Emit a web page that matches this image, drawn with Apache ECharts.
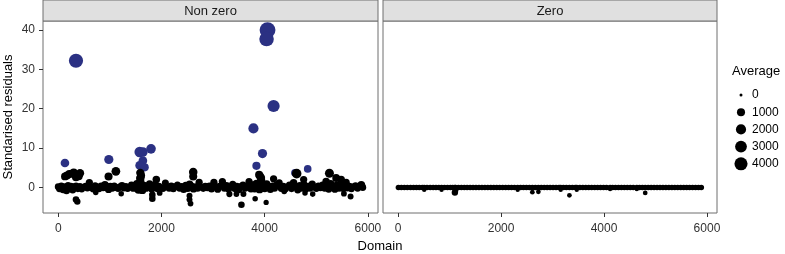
<!DOCTYPE html>
<html>
<head>
<meta charset="utf-8">
<script src="https://cdn.jsdelivr.net/npm/echarts@6/dist/echarts.min.js"></script>
<style>
  html, body { margin: 0; padding: 0; background: #fff; }
  #chart { width: 785px; height: 254px; }
</style>
</head>
<body>
<div id="chart"></div>
<script>
// facet titles
var panelTitles = ['Non zero', 'Zero'];
var xTicks = [0, 2000, 4000, 6000];
var yTicks = [0, 10, 20, 30, 40];
var legendAverages = [0, 1000, 2000, 3000, 4000];

// [domain, standardised residual, average]  -- "Non zero" panel, non outliers
var nonZeroPoints = [
  [0,0.2,600],[25,-0.3,700],[60,0.4,500],[95,-0.5,800],[130,0.1,900],[160,-0.8,750],[190,0.5,650],
  [215,-0.2,1000],[245,0.3,600],[280,-0.6,700],[310,0.1,800],[345,0.4,500],[380,-0.3,650],[420,0.2,750],
  [455,-0.4,600],[490,0.1,450],[530,0.3,650],[565,-0.2,500],[603,1.2,700],[640,0.0,600],[680,-0.4,650],
  [715,0.5,500],[750,0.1,600],[790,-0.3,700],[830,0.4,600],[870,-0.1,650],[905,0.7,800],[940,0.2,900],
  [975,-0.5,750],[1010,0.3,700],[1050,-0.2,600],[1085,0.4,500],[1120,0.0,650],[1160,-0.3,600],[1195,0.2,500],
  [1235,0.5,600],[1270,-0.1,700],[1310,0.3,500],[1345,-0.3,600],[1385,0.1,650],[1420,0.6,600],[1455,-0.2,700],
  [1490,0.4,800],[1525,0.9,900],[1555,-0.6,1000],[1590,1.5,1100],[1610,0.3,1200],[1630,-0.7,900],[1660,0.5,800],
  [1700,-0.2,700],[1735,0.3,600],[1770,0.9,750],[1810,-0.4,650],[1850,0.2,600],[1880,0.8,700],[1915,-0.3,650],
  [1950,0.3,600],[1990,0.0,500],[2030,-0.3,600],[2076,1.1,650],[2110,0.2,600],[2150,-0.2,650],[2190,0.4,600],
  [2230,-0.4,500],[2270,0.2,600],[2310,0.6,650],[2350,-0.2,600],[2390,0.3,500],[2430,-0.5,650],[2470,0.5,700],
  [2510,-0.2,750],[2545,0.8,800],[2580,0.3,750],[2620,-0.4,700],[2660,0.2,600],[2700,-0.2,650],[2730,1.3,700],
  [2770,0.1,600],[2810,-0.3,500],[2850,0.3,600],[2890,-0.1,650],[2930,0.4,600],[2970,-0.4,650],[3016,1.3,700],
  [3050,0.2,650],[3090,-0.5,600],[3130,0.3,650],[3180,1.5,700],[3220,-0.2,650],[3260,0.5,600],[3300,-0.4,650],
  [3340,0.2,600],[3380,0.8,700],[3420,-0.3,650],[3460,0.3,600],[3500,-0.6,600],[3540,0.2,650],[3580,0.6,600],
  [3620,-0.2,650],[3660,0.3,600],[3697,1.5,700],[3735,-0.4,650],[3770,0.6,800],[3805,-0.3,900],[3840,1.0,800],
  [3870,0.4,1000],[3900,-0.5,900],[3935,1.6,1000],[3970,0.5,900],[4000,-0.3,800],[4040,0.9,700],[4080,0.2,750],
  [4110,-0.5,650],[4150,0.4,600],[4190,-0.2,650],[4230,0.6,600],[4281,1.2,650],[4320,-0.3,600],[4360,0.3,650],
  [4400,-0.4,600],[4440,0.2,500],[4480,0.6,600],[4520,-0.3,650],[4560,1.2,750],[4600,0.3,800],[4640,-0.6,700],
  [4680,0.5,650],[4720,-0.2,600],[4760,0.8,650],[4800,-0.4,600],[4840,0.3,650],[4880,-0.2,600],[4920,0.8,750],
  [4960,0.1,650],[5000,-0.3,600],[5040,0.4,500],[5080,-0.1,600],[5120,0.6,650],[5160,-0.2,600],[5200,0.3,700],
  [5240,-0.4,750],[5280,0.9,800],[5320,0.2,700],[5360,-0.5,600],[5400,0.7,650],[5440,-0.2,600],[5480,0.5,600],
  [5520,-0.3,650],[5560,0.4,600],[5600,-0.2,500],[5640,0.3,600],[5680,-0.4,500],[5720,0.2,600],[5760,0.5,500],
  [5800,-0.2,600],[5840,0.1,500],[5880,0.4,700],[5900,0.0,600],
  // off the band
  [130,2.8,900],[170,3.0,1000],[215,3.4,950],[260,3.5,900],[300,3.8,950],[344,2.6,1000],[422,3.6,1100],
  [400,2.8,800],[344,-3.1,500],[370,-3.6,450],[727,-1.3,250],[975,2.8,1000],[1117,4.1,1300],[1220,-1.6,250],
  [1590,3.7,1100],[1590,2.4,1200],[1605,3.0,1000],[1900,2.0,800],[1823,-1.9,500],[1823,-2.9,500],[1965,-1.4,300],
  [2615,3.9,1200],[2615,2.8,1000],[2543,-2.1,350],[2543,-3.1,350],[2563,-4.1,300],[3316,-1.7,400],[3452,-1.7,300],
  [3549,-4.4,500],[3588,-1.7,350],[3815,-2.9,250],[4028,-3.8,200],[3892,3.2,1000],[3911,2.8,1100],[3930,2.4,1000],
  [4172,2.2,700],[4755,2.0,700],[4619,3.5,1700],[4781,-1.4,250],[4930,-1.7,250],[5254,3.6,1400],[5190,1.5,800],
  [5384,2.4,900],[5481,2.0,850],[5578,1.3,700],[5535,-1.6,300],[5664,-2.3,350],[5871,0.7,800],[4378,-1.0,300]
];

// outliers (blue) in "Non zero"
var outlierPoints = [
  [130,6.2,1250],[344,32.2,4900],[980,7.1,1500],[1577,9.0,2100],[1640,9.0,1700],[1640,6.8,1250],
  [1577,5.6,1250],[1675,5.1,1050],[1798,9.8,1700],[3782,15.0,2000],[4055,40.0,6400],[4036,37.7,5200],
  [4172,20.7,3300],[3957,8.6,1500],[3840,5.5,1050],[4586,3.7,850],[4833,4.7,850]
];

// "Zero" panel
var zeroPoints = [
  [5,0,260],[62,0,260],[120,0,260],[178,0,260],[240,0,260],[298,0,260],[355,0,260],[410,0,260],[468,0,260],
  [506,0,260],[560,0,260],[622,0,260],[680,0,260],[735,0,260],[790,0,260],[843,0,260],[900,0,260],[958,0,260],
  [1015,0,260],[1060,0,260],[1102,0,260],[1115,0,260],[1170,0,260],[1228,0,260],[1285,0,260],[1340,0,260],
  [1398,0,260],[1455,0,260],[1512,0,260],[1570,0,260],[1628,0,260],[1685,0,260],[1742,0,260],[1800,0,260],
  [1858,0,260],[1915,0,260],[1972,0,260],[2030,0,260],[2088,0,260],[2145,0,260],[2202,0,260],[2260,0,260],
  [2322,0,260],[2378,0,260],[2435,0,260],[2492,0,260],[2550,0,260],[2607,0,260],[2665,0,260],[2724,0,260],
  [2780,0,260],[2838,0,260],[2895,0,260],[2952,0,260],[3010,0,260],[3068,0,260],[3125,0,260],[3158,0,260],
  [3210,0,260],[3268,0,260],[3327,0,260],[3385,0,260],[3442,0,260],[3470,0,260],[3530,0,260],[3588,0,260],
  [3645,0,260],[3702,0,260],[3760,0,260],[3818,0,260],[3875,0,260],[3932,0,260],[3990,0,260],[4048,0,260],
  [4118,0,260],[4165,0,260],[4222,0,260],[4280,0,260],[4338,0,260],[4395,0,260],[4452,0,260],[4510,0,260],
  [4568,0,260],[4637,0,260],[4690,0,260],[4745,0,260],[4800,0,260],[4858,0,260],[4915,0,260],[4972,0,260],
  [5030,0,260],[5088,0,260],[5145,0,260],[5202,0,260],[5260,0,260],[5318,0,260],[5375,0,260],[5432,0,260],
  [5490,0,260],[5548,0,260],[5605,0,260],[5662,0,260],[5720,0,260],[5778,0,260],[5835,0,260],[5890,0,260],
  // small dips
  [506,-0.6,80],[843,-0.6,80],[1102,-1.3,450],[1115,-0.8,250],[2322,-0.6,80],[2607,-1.2,120],[2724,-1.1,120],
  [3158,-0.6,80],[3327,-2.0,120],[3470,-0.6,80],[4118,-0.4,80],[4637,-0.4,80],[4800,-1.4,120]
];

var FONT = 'Liberation Sans, Arial, sans-serif';
var BORDER = '#6e6e6e';

// point diameter from Average (area-like scale)
function dotSize(avg) {
    return 3 + 0.16 * Math.sqrt(avg);
}

var chart = echarts.init(document.getElementById('chart'), null, { renderer: 'canvas' });

var grids = [
    { left: 43, top: 21, width: 335, height: 192 },
    { left: 383, top: 21, width: 334, height: 192 }
];

function makeX(i) {
    return {
        type: 'value', gridIndex: i, min: -295, max: 6195,
        splitLine: { show: false },
        axisLine: { show: false, onZero: false },
        axisTick: { show: true, length: 4, lineStyle: { color: '#333' }, customValues: xTicks },
        axisLabel: {
            show: true, customValues: xTicks, color: '#333', fontSize: 12, fontFamily: FONT, margin: 10,
            formatter: function (v) { return String(v); }
        }
    };
}

function makeY(i) {
    return {
        type: 'value', gridIndex: i, min: -6.5, max: 42.3,
        splitLine: { show: false },
        axisLine: { show: false, onZero: false },
        axisTick: { show: i === 0, length: 4, lineStyle: { color: '#333' }, customValues: yTicks },
        axisLabel: {
            show: i === 0, customValues: yTicks, color: '#333', fontSize: 12, fontFamily: FONT, margin: 8,
            formatter: function (v) { return String(v); }
        },
        name: i === 0 ? 'Standarised residuals' : '',
        nameLocation: 'middle', nameGap: 28,
        nameTextStyle: { color: '#000', fontSize: 13, fontFamily: FONT }
    };
}

function scatter(points, gi, color, z) {
    return {
        type: 'scatter', xAxisIndex: gi, yAxisIndex: gi, z: z,
        data: points,
        symbol: 'circle',
        symbolSize: function (val) { return dotSize(val[2]); },
        itemStyle: { color: color, opacity: 1 },
        emphasis: { disabled: true },
        silent: true
    };
}

// strips, axis title, size legend
var graphics = [];
grids.forEach(function (g, i) {
    graphics.push({
        type: 'rect', z: 10,
        shape: { x: g.left, y: 0, width: g.width, height: g.top },
        style: { fill: '#e0e0e0', stroke: BORDER, lineWidth: 1 }
    });
    graphics.push({
        type: 'text', z: 11, x: g.left + g.width / 2, y: g.top / 2 + 1,
        style: { text: panelTitles[i], fill: '#1a1a1a', font: '13px ' + FONT, align: 'center', verticalAlign: 'middle' }
    });
});
graphics.push({
    type: 'text', x: 380, y: 246,
    style: { text: 'Domain', fill: '#000', font: '13px ' + FONT, align: 'center', verticalAlign: 'middle' }
});
graphics.push({
    type: 'text', x: 732, y: 71,
    style: { text: 'Average', fill: '#000', font: '13px ' + FONT, align: 'left', verticalAlign: 'middle' }
});
legendAverages.forEach(function (a, k) {
    var cy = 95 + k * 17.2;
    graphics.push({ type: 'circle', shape: { cx: 741, cy: cy, r: dotSize(a) / 2 }, style: { fill: '#000' } });
    graphics.push({
        type: 'text', x: 752, y: cy,
        style: { text: String(a), fill: '#000', font: '12px ' + FONT, align: 'left', verticalAlign: 'middle' }
    });
});

chart.setOption({
    animation: false,
    backgroundColor: '#fff',
    grid: grids.map(function (g) {
        return { left: g.left, top: g.top, width: g.width, height: g.height, show: true,
                 outerBoundsMode: 'none', containLabel: false,
                 borderColor: BORDER, borderWidth: 1, backgroundColor: '#fff' };
    }),
    xAxis: [makeX(0), makeX(1)],
    yAxis: [makeY(0), makeY(1)],
    series: [
        scatter(outlierPoints, 0, '#2b3183', 2),
        scatter(nonZeroPoints, 0, '#000', 3),
        scatter(zeroPoints, 1, '#000', 3)
    ],
    graphic: graphics
});
</script>
</body>
</html>
